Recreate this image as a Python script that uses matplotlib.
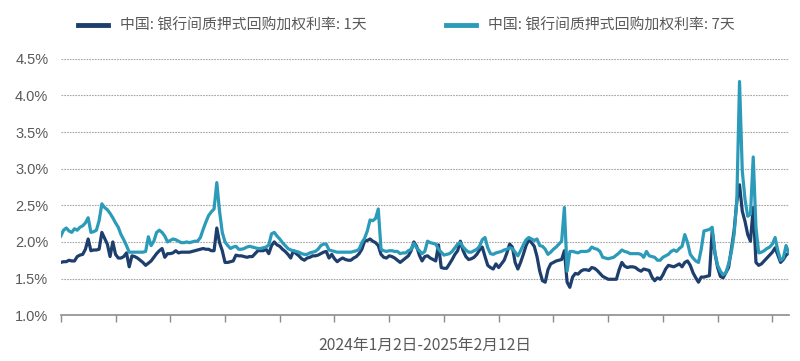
import matplotlib
matplotlib.use("Agg")
import matplotlib.pyplot as plt
from matplotlib.ticker import FuncFormatter, MultipleLocator
import numpy as np

plt.rcParams["font.family"] = ["Noto Sans CJK SC", "DejaVu Sans"]

# Trading-day series, 2024-01-02 .. 2025-02-12 (values in %)
rate_1d = [
    1.72, 1.73, 1.73, 1.75, 1.74, 1.74, 1.80, 1.82, 1.83, 1.90,
    2.04, 1.88, 1.89, 1.89, 1.90, 2.13, 2.05, 1.97, 1.80, 2.00,
    1.83, 1.78, 1.78, 1.80, 1.85, 1.66, 1.81, 1.80, 1.78, 1.75,
    1.72, 1.68, 1.71, 1.74, 1.79, 1.84, 1.88, 1.91, 1.79, 1.84,
    1.84, 1.85, 1.88, 1.85, 1.86, 1.86, 1.86, 1.86, 1.87, 1.88,
    1.89, 1.90, 1.91, 1.90, 1.90, 1.88, 1.88, 2.19, 1.99, 1.88,
    1.72, 1.72, 1.73, 1.74, 1.82, 1.81, 1.81, 1.80, 1.79, 1.80,
    1.80, 1.84, 1.88, 1.88, 1.88, 1.90, 1.84, 1.95, 2.00, 1.96,
    1.94, 1.90, 1.87, 1.83, 1.78, 1.88, 1.84, 1.81, 1.77, 1.75,
    1.78, 1.79, 1.81, 1.81, 1.82, 1.84, 1.86, 1.87, 1.78, 1.83,
    1.77, 1.73, 1.76, 1.78, 1.76, 1.75, 1.75, 1.78, 1.80, 1.84,
    1.90, 2.01, 2.02, 2.04, 2.01, 1.99, 1.95, 1.83, 1.79, 1.78,
    1.81, 1.80, 1.78, 1.75, 1.72, 1.75, 1.78, 1.81, 1.88, 2.00,
    1.94, 1.82, 1.74, 1.80, 1.81, 1.78, 1.76, 1.74, 1.96, 1.65,
    1.64, 1.64, 1.70, 1.76, 1.83, 1.88, 2.01, 1.88, 1.80, 1.76,
    1.77, 1.79, 1.83, 1.89, 1.93, 1.80, 1.68, 1.65, 1.63, 1.70,
    1.65, 1.70, 1.75, 1.85, 1.97, 1.93, 1.72, 1.63, 1.72, 1.83,
    1.95, 2.03, 1.99, 1.94, 1.80, 1.60, 1.47, 1.45, 1.62, 1.70,
    1.72, 1.74, 1.75, 1.76, 1.88, 1.45, 1.38, 1.52, 1.57, 1.56,
    1.60, 1.62, 1.62, 1.61, 1.65, 1.64, 1.61, 1.57, 1.53, 1.51,
    1.49, 1.49, 1.49, 1.49, 1.62, 1.72, 1.67, 1.65, 1.66, 1.66,
    1.65, 1.62, 1.60, 1.63, 1.62, 1.61, 1.52, 1.47, 1.51, 1.49,
    1.55, 1.63, 1.68, 1.67, 1.66, 1.68, 1.70, 1.66, 1.72, 1.74,
    1.68, 1.58, 1.51, 1.45, 1.52, 1.52, 1.53, 1.54, 2.15, 1.85,
    1.65, 1.53, 1.51, 1.58, 1.65, 1.90, 2.15, 2.55, 2.78, 2.42,
    2.28, 2.10, 2.01, 2.47, 1.72, 1.68, 1.70, 1.74, 1.78, 1.82,
    1.86, 1.92, 1.82, 1.72, 1.76, 1.82, 1.85,
]

rate_7d = [
    2.08, 2.16, 2.19, 2.15, 2.13, 2.18, 2.16, 2.20, 2.22, 2.26,
    2.33, 2.13, 2.14, 2.16, 2.29, 2.52, 2.47, 2.44, 2.39, 2.33,
    2.26, 2.20, 2.10, 2.03, 1.95, 1.86, 1.86, 1.86, 1.86, 1.86,
    1.86, 1.87, 2.07, 1.95, 2.01, 2.13, 2.16, 2.13, 2.08, 2.00,
    2.02, 2.04, 2.03, 2.01, 1.99, 1.99, 2.00, 1.99, 2.00, 2.01,
    2.01, 2.06, 2.17, 2.27, 2.36, 2.41, 2.45, 2.81, 2.42, 2.13,
    2.00, 1.95, 1.91, 1.93, 1.94, 1.90, 1.90, 1.91, 1.93, 1.94,
    1.93, 1.92, 1.91, 1.91, 1.92, 1.93, 1.96, 2.11, 2.13, 2.08,
    2.04, 1.99, 1.95, 1.91, 1.89, 1.88, 1.87, 1.86, 1.84, 1.83,
    1.83, 1.85, 1.86, 1.87, 1.90, 1.95, 1.97, 1.97, 1.89, 1.88,
    1.87, 1.86, 1.86, 1.86, 1.86, 1.86, 1.86, 1.87, 1.88, 1.90,
    1.99, 2.05, 2.15, 2.30, 2.29, 2.32, 2.45, 1.90, 1.88, 1.87,
    1.88, 1.88, 1.87, 1.87, 1.84, 1.85, 1.85, 1.88, 1.90, 1.98,
    1.92, 1.88, 1.84, 1.87, 2.01, 1.99, 1.98, 1.97, 1.90, 1.86,
    1.82, 1.83, 1.84, 1.87, 1.92, 1.97, 1.99, 1.93, 1.89, 1.86,
    1.86, 1.88, 1.90, 1.94, 2.03, 2.06, 1.92, 1.84, 1.83, 1.85,
    1.86, 1.87, 1.89, 1.90, 1.92, 1.91, 1.86, 1.81, 1.88, 1.96,
    2.03, 2.06, 2.04, 2.02, 2.04, 1.95, 1.94, 1.90, 1.83, 1.86,
    1.90, 1.93, 1.97, 2.01, 2.47, 1.60, 1.87, 1.87, 1.86, 1.85,
    1.87, 1.87, 1.87, 1.88, 1.93, 1.91, 1.90, 1.87, 1.79, 1.78,
    1.77, 1.78, 1.79, 1.82, 1.85, 1.89, 1.87, 1.86, 1.84, 1.84,
    1.84, 1.84, 1.83, 1.79, 1.87, 1.81, 1.80, 1.79, 1.75, 1.75,
    1.79, 1.81, 1.83, 1.87, 1.89, 1.87, 1.91, 1.94, 2.10, 1.99,
    1.83, 1.78, 1.74, 1.72, 1.90, 2.15, 2.16, 2.17, 2.20, 1.85,
    1.68, 1.60, 1.55, 1.58, 1.70, 1.86, 2.10, 2.56, 4.19, 2.97,
    2.58, 2.35, 2.38, 3.16, 2.20, 1.85, 1.86, 1.88, 1.91, 1.93,
    1.97, 2.06, 1.88, 1.75, 1.78, 1.95, 1.85,
]

label_1d = "中国: 银行间质押式回购加权利率: 1天"
label_7d = "中国: 银行间质押式回购加权利率: 7天"
x_label = "2024年1月2日-2025年2月12日"

NAVY = "#1e3f6e"
TEAL = "#2b9bb9"
GREY = "#595959"

fig = plt.figure(figsize=(8.0, 3.61), dpi=100)
ax = fig.add_axes([0.076, 0.127, 0.910, 0.710])

days = np.arange(len(rate_1d))
ax.plot(days, rate_1d, color=NAVY, lw=2.3, label=label_1d, solid_joinstyle="round")
ax.plot(days, rate_7d, color=TEAL, lw=2.3, label=label_7d, solid_joinstyle="round")

ax.set_xlim(0, len(rate_1d) - 1)
ax.set_ylim(1.0, 4.5)
ax.yaxis.set_major_locator(MultipleLocator(0.5))
ax.yaxis.set_major_formatter(FuncFormatter(lambda v, _: f"{v:.1f}%"))
ax.set_xticks(np.arange(0, len(rate_1d), 20))
ax.set_xticklabels([])

for y in np.arange(1.5, 4.51, 0.5):
    ax.axhline(y, color="#a6a6a6", lw=0.8, ls=(0, (1.5, 1.0)), zorder=0)

for s in ["top", "right", "left"]:
    ax.spines[s].set_visible(False)
ax.spines["bottom"].set_color("#8c8c8c")
ax.spines["bottom"].set_linewidth(1.2)
ax.tick_params(axis="x", length=5, width=1.0, color="#8c8c8c", direction="out")
ax.tick_params(axis="y", length=0, pad=9, labelsize=10.5, labelcolor=GREY)
for t in ax.get_yticklabels():
    t.set_family(["Liberation Sans", "DejaVu Sans"])

ax.set_xlabel(x_label, fontsize=11.3, color=GREY, labelpad=7)

fig.legend(loc="upper center", bbox_to_anchor=(0.508, 0.985), ncol=2, frameon=False,
           fontsize=10.7, handlelength=2.0, columnspacing=5.4, handletextpad=0.8,
           labelcolor=GREY)
for line in fig.legends[0].get_lines():
    line.set_linewidth(3.5)

fig.savefig("out.png", dpi=100, facecolor="white")
